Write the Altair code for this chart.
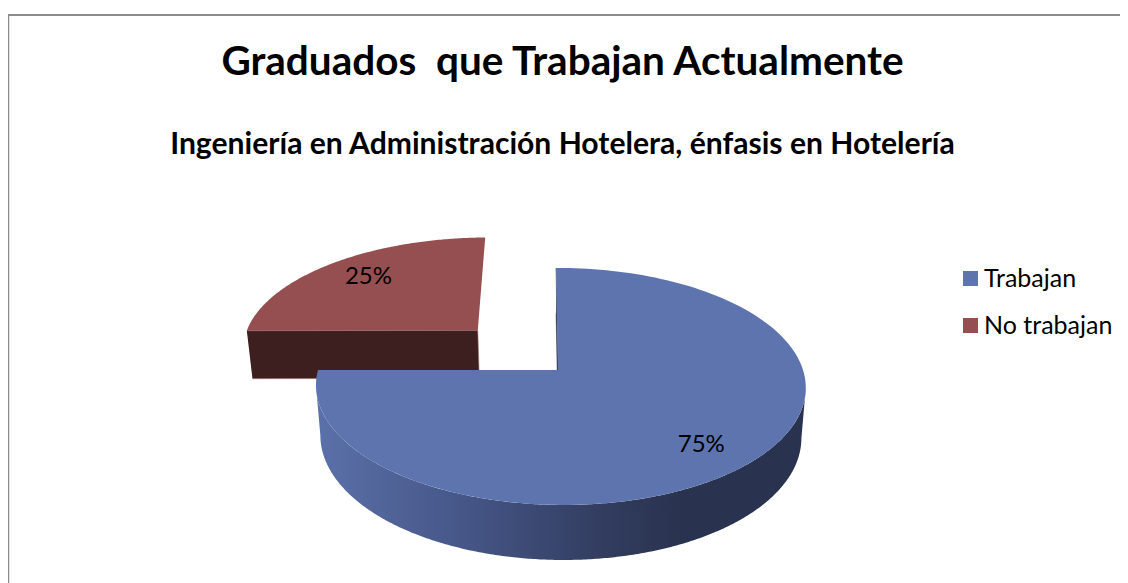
import altair as alt
import numpy as np
import pandas as pd

TITLE = "Graduados \u00a0que Trabajan Actualmente"
SUBTITLE = "\u00a0Ingeniería en Administración Hotelera, énfasis en Hotelería"
CATEGORIES = ["Trabajan", "No trabajan"]
SHARES = [75, 25]
LABELS = ["75%", "25%"]

W, H = 1112, 575
FONT = "Lato"
BLUE, RED = "#5d74af", "#964f50"
RED_WALL = "#3e1f20"
BLUE_EDGE = "#2a3553"

# view of the tilted disc: ground (u, v) to page units
OX, OY = 550.0, 362.0
A, B, S, P, Q = 242.5, 116.2, 2.3, 0.139, 0.0103
EXPLODE = (-0.345, -0.36)
RED_WIDEN = 1.017
START = -90.0


def top(u, v):
    w = 1 - P * v - Q * u
    return OX + (A * u + S * v) / w, OY + B * v / w


def lower(x, y):
    # the disc's underside, further from the viewer
    return 553.5 + (x - 553.5) * 0.982, y + 48 + (y - 322) * 0.04


def arc(a0, a1, du=0.0, dv=0.0, n=160, widen=1.0):
    t = np.radians(np.linspace(a0, a1, n))
    return top(widen * np.cos(t) + du, np.sin(t) + dv)


def poly(xs, ys):
    return pd.DataFrame({"x": xs, "y": ys, "i": np.arange(len(xs))})


x_scale = alt.Scale(domain=[0, W], nice=False, zero=False)
y_scale = alt.Scale(domain=[H, 0], nice=False, zero=False)
color_scale = alt.Scale(domain=CATEGORIES, range=[BLUE, RED])


def shape(df, **mark):
    return alt.Chart(df).mark_line(interpolate="linear", **mark).encode(
        x=alt.X("x:Q", scale=x_scale, axis=None),
        y=alt.Y("y:Q", scale=y_scale, axis=None),
        order="i:Q",
    )


angles = np.cumsum([0] + [s / sum(SHARES) * 360 for s in SHARES]) + START

# blue slice
bx, by = arc(angles[0], angles[1])
vx, vy = top(0.0, 0.0)
blue_face = poly(np.r_[vx, bx], np.r_[vy, by]).assign(slice=CATEGORIES[0])

ax, ay = arc(-30, 210, n=480)
ir, il = int(np.argmax(ax)), int(np.argmin(ax))
wx, wy = ax[ir:il + 1], ay[ir:il + 1]
lx, ly = lower(wx, wy)
blue_wall = poly(np.r_[wx, lx[::-1]], np.r_[wy, ly[::-1]])

ex0, ey0 = top(0.0, -1.0)
ex1, ey1 = lower(ex0, ey0)
fx1, fy1 = lower(vx, vy)
blue_edge = poly([ex0, vx, fx1, ex1], [ey0, vy, fy1, ey1])

# red slice, pulled out
rx, ry = arc(angles[1], angles[2], *EXPLODE, widen=RED_WIDEN)
ivx, ivy = top(*EXPLODE)
red_face = poly(np.r_[ivx, rx], np.r_[ivy, ry]).assign(slice=CATEGORIES[1])
c0x, c0y = rx[0], ry[0]
l0x, l0y = lower(c0x, c0y)
l1x, l1y = lower(ivx, ivy)
red_wall = poly([c0x, ivx, l1x, l0x], [c0y, ivy, l1y, l0y])

# percentage labels inside each slice, along its middle direction
mids = (angles[:-1] + angles[1:]) / 2
LABEL_REACH = [(0.755, 0.83), (0.755, 0.775)]
offsets = [(0.0, 0.0), EXPLODE]
lab_xy = [top(r[0] * np.cos(np.radians(m)) + d[0], r[1] * np.sin(np.radians(m)) + d[1])
          for m, r, d in zip(mids, LABEL_REACH, offsets)]
labels = pd.DataFrame({"x": [p[0] for p in lab_xy], "y": [p[1] for p in lab_xy], "t": LABELS})

gradient = alt.Gradient(
    gradient="linear", x1=0, x2=1, y1=0, y2=0,
    stops=[
        alt.GradientStop(offset=0.0, color="#5b71a9"),
        alt.GradientStop(offset=0.28, color="#47588a"),
        alt.GradientStop(offset=0.58, color="#323d60"),
        alt.GradientStop(offset=0.75, color="#29324e"),
        alt.GradientStop(offset=1.0, color="#29324e"),
    ],
)

legend = alt.Legend(
    orient="none", legendX=950, legendY=258, title=None, symbolType="square",
    symbolSize=225, symbolStrokeWidth=0, labelFont=FONT, labelFontSize=25, labelColor="#000000",
    labelOffset=1, rowPadding=21, labelLimit=200, symbolOpacity=1,
)

border = pd.DataFrame({"x": [0.5, 0.0], "x2": [0.5, W], "y": [7.0, 7.0], "y2": [H, 7.0]})

rule_left = alt.Chart(border.iloc[[0]]).mark_rule(color="#8c8c8c", strokeWidth=1.5).encode(
    x=alt.X("x:Q", scale=x_scale, axis=None), y=alt.Y("y:Q", scale=y_scale, axis=None), y2="y2:Q")
rule_top = alt.Chart(border.iloc[[1]]).mark_rule(color="#8c8c8c", strokeWidth=2).encode(
    x=alt.X("x:Q", scale=x_scale, axis=None), x2="x2:Q", y=alt.Y("y:Q", scale=y_scale, axis=None))

face_fill = alt.Fill("slice:N", scale=color_scale, legend=legend, sort=CATEGORIES)

red_face_layer = shape(red_face, strokeWidth=0).encode(fill=face_fill)
blue_face_layer = shape(blue_face, strokeWidth=0).encode(fill=face_fill)

text = alt.Chart(labels).mark_text(font=FONT, fontSize=24, color="#000000", align="center", baseline="middle").encode(
    x=alt.X("x:Q", scale=x_scale, axis=None), y=alt.Y("y:Q", scale=y_scale, axis=None), text="t:N")

chart = alt.layer(
    rule_left, rule_top,
    shape(red_wall, fill=RED_WALL, stroke="#a98080", strokeWidth=0.6),
    red_face_layer,
    shape(blue_edge, fill=BLUE_EDGE, stroke=BLUE_EDGE, strokeWidth=0.5),
    shape(blue_wall, fill=gradient, strokeWidth=0),
    blue_face_layer,
    text,
).resolve_scale(x="shared", y="shared").properties(
    width=W, height=H, padding=0,
    autosize=alt.AutoSizeParams(type="none"),
    background="#ffffff",
    title=alt.TitleParams(
        text=TITLE, subtitle=SUBTITLE, anchor="middle", dx=-1.5, offset=-152,
        font=FONT, fontSize=40.5, fontWeight="bold", color="#000000",
        subtitleFont=FONT, subtitleFontSize=30.1, subtitleFontWeight="bold", subtitleColor="#000000",
        subtitlePadding=46,
    ),
).configure_view(stroke=None)

chart.save("out.html", embed_options={"renderer": "svg", "actions": False})
